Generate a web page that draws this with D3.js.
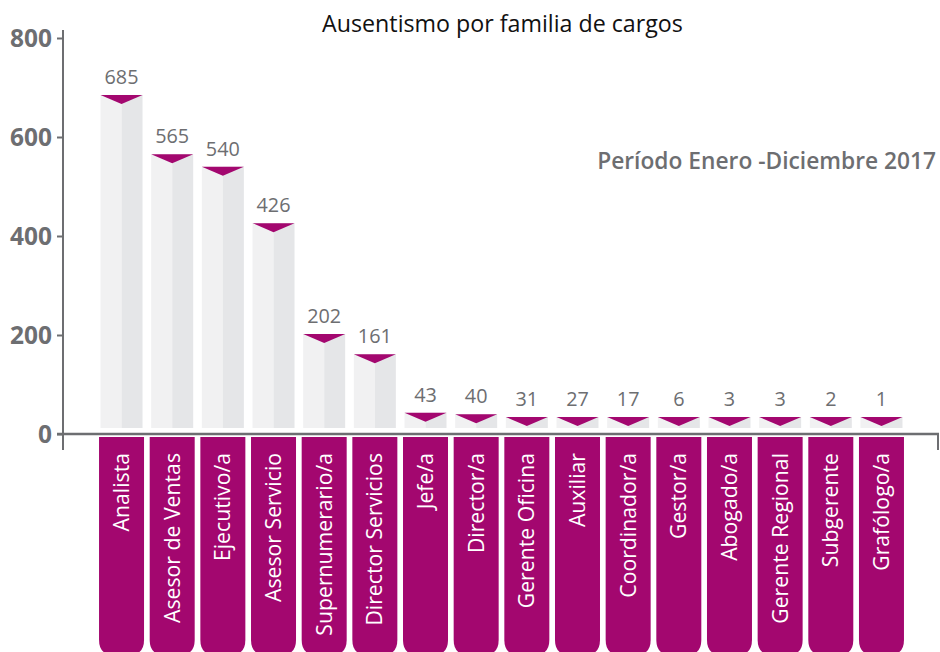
<!DOCTYPE html>
<html><head><meta charset="utf-8">
<script src="https://cdn.jsdelivr.net/npm/d3@7"></script>
<style>
html,body{margin:0;padding:0;background:#fff;}
svg{display:block;font-family:"Open Sans",Lato,sans-serif;}
</style></head>
<body>
<svg id="chart" width="940" height="652"></svg>
<script>
const categories = ["Analista","Asesor de Ventas","Ejecutivo/a","Asesor Servicio","Supernumerario/a","Director Servicios","Jefe/a","Director/a","Gerente Oficina","Auxiliar","Coordinador/a","Gestor/a","Abogado/a","Gerente Regional","Subgerente","Grafólogo/a"];
const values = [685,565,540,426,202,161,43,40,31,27,17,6,3,3,2,1];
const yTicks = [0,200,400,600,800];
const title = "Ausentismo por familia de cargos";
const subtitle = "Período Enero -Diciembre 2017";

const magenta = "#a3076f", axisGray = "#6d6e71", lightL = "#f1f1f2", lightR = "#e5e6e8";
const FONT = "'Open Sans',Lato,sans-serif";
const svg = d3.select("#chart");

// measure helper: font size so that `str` has width `w`
function fitSize(str, w, weight){
  const t = svg.append("text").attr("font-family",FONT).attr("font-size",100)
    .attr("font-weight",weight||"normal").text(str);
  const len = t.node().getComputedTextLength();
  t.remove();
  return 100 * w / len;
}

const y = d3.scaleLinear().domain([0,800]).range([434,38]);
const x = d3.scaleBand().domain(categories).range([96.2,906.8]).padding(0);
const step = x.bandwidth();
const barW = 42, tabW = 45;
const base = y(0) - 6;
const minH = 11;

// title
svg.append("text").attr("x",502.5).attr("y",32).attr("text-anchor","middle")
  .attr("font-size",fitSize(title,361)).attr("fill","#111").text(title);
svg.append("text").attr("x",936).attr("y",169).attr("text-anchor","end")
  .attr("font-size",fitSize(subtitle,339,600)).attr("font-weight",600)
  .attr("fill",axisGray).text(subtitle);

// y axis
const tickFs = fitSize("800",42,"bold");
const yAxis = d3.axisLeft(y).tickValues(yTicks).tickSize(6).tickPadding(5);
const gy = svg.append("g").attr("transform","translate(63,0)").call(yAxis);
gy.select(".domain").remove();
gy.selectAll(".tick line").attr("stroke",axisGray).attr("stroke-width",2);
gy.selectAll(".tick text").attr("font-size",tickFs).attr("font-weight","bold")
  .attr("fill",axisGray).attr("font-family",FONT).attr("dy","0.35em");
svg.append("line").attr("x1",63).attr("x2",63).attr("y1",y(800)-8).attr("y2",450)
  .attr("stroke",axisGray).attr("stroke-width",2);
svg.append("line").attr("x1",57).attr("x2",939).attr("y1",y(0)).attr("y2",y(0))
  .attr("stroke",axisGray).attr("stroke-width",2.5);
svg.append("line").attr("x1",938).attr("x2",938).attr("y1",y(0)).attr("y2",450)
  .attr("stroke",axisGray).attr("stroke-width",2);

// bars
const data = categories.map((c,i)=>({c, v: values[i]}));
const barTop = d => Math.min(y(d.v), base - minH);
const g = svg.append("g");
g.selectAll(".barL").data(data).join("rect")
  .attr("x",d=>x(d.c)+step/2-barW/2).attr("y",barTop)
  .attr("width",barW/2).attr("height",d=>base-barTop(d)).attr("fill",lightL);
g.selectAll(".barR").data(data).join("rect")
  .attr("x",d=>x(d.c)+step/2).attr("y",barTop)
  .attr("width",barW/2).attr("height",d=>base-barTop(d)).attr("fill",lightR);
g.selectAll(".cap").data(data).join("path")
  .attr("d",d=>{const cx=x(d.c)+step/2, t=barTop(d);
    return `M${cx-barW/2},${t}L${cx+barW/2},${t}L${cx},${t+9}Z`;})
  .attr("fill",magenta);
const valFs = fitSize("685",34);
g.selectAll(".val").data(data).join("text")
  .attr("x",d=>x(d.c)+step/2).attr("y",d=>barTop(d)-11)
  .attr("text-anchor","middle").attr("font-size",valFs).attr("fill",axisGray)
  .text(d=>d.v);

// category tabs
const tabTop = 437, tabBot = 655, r = 15;
const tabs = svg.append("g");
tabs.selectAll("path").data(data).join("path")
  .attr("d",d=>{const l=x(d.c)+step/2-tabW/2, rr=l+tabW;
    return `M${l},${tabTop}H${rr}V${tabBot-r}Q${rr},${tabBot} ${rr-r},${tabBot}H${l+r}Q${l},${tabBot} ${l},${tabBot-r}Z`;})
  .attr("fill",magenta);
const tabFs = fitSize("Asesor de Ventas",170,500);
tabs.selectAll("text").data(data).join("text")
  .attr("transform",d=>`translate(${x(d.c)+step/2+7.5},453) rotate(-90)`)
  .attr("text-anchor","end").attr("font-size",tabFs).attr("font-weight",500)
  .attr("fill","#fff").text(d=>d.c);
</script>
</body></html>
